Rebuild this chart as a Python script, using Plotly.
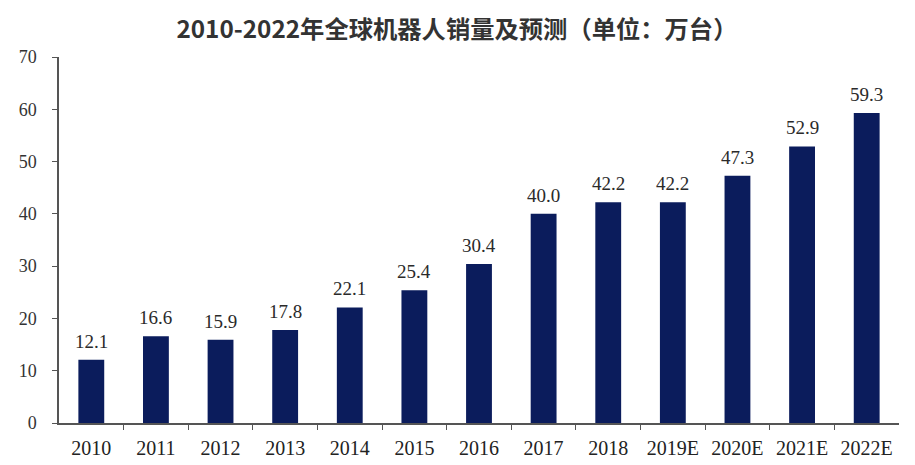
import plotly.graph_objects as go

years = ["2010", "2011", "2012", "2013", "2014", "2015", "2016", "2017",
         "2018", "2019E", "2020E", "2021E", "2022E"]
sales = [12.1, 16.6, 15.9, 17.8, 22.1, 25.4, 30.4, 40.0, 42.2, 42.2, 47.3, 52.9, 59.3]
y_ticks = [0, 10, 20, 30, 40, 50, 60, 70]
title_text = "2010-2022年全球机器人销量及预测（单位：万台）"

serif = "Liberation Serif, Times New Roman, serif"
pos = list(range(len(years)))

fig = go.Figure()
fig.add_trace(go.Bar(
    x=pos, y=sales,
    marker=dict(color="#0b1c5c", line=dict(width=0)),
    width=0.4,
    customdata=years,
    hovertemplate="%{customdata}: %{y}<extra></extra>",
))

for p, v in zip(pos, sales):
    fig.add_annotation(
        x=p, y=v, text=f"{v:.1f}", showarrow=False,
        yanchor="bottom", yshift=6,
        font=dict(family=serif, size=19, color="#2a2a2a"),
    )

# page body has an 8px margin, so the figure is sized 8px smaller
fig.update_layout(
    width=907, height=457,
    margin=dict(l=51, r=16, t=49, b=42),
    paper_bgcolor="white", plot_bgcolor="white",
    showlegend=False,
    title=dict(
        text=title_text, x=0.495, xanchor="center", y=0.952, yanchor="middle",
        font=dict(family="Noto Sans CJK SC", size=24.3, color="#333333", weight="bold"),
    ),
    xaxis=dict(
        range=[-0.5, len(years) - 0.5],
        tickvals=pos, ticktext=years,
        showline=True, linecolor="#555555", linewidth=1.5,
        ticks="",
        minor=dict(ticks="outside", tickvals=[p + 0.5 for p in pos[:-1]],
                   ticklen=5, tickcolor="#555555", showgrid=False),
        tickfont=dict(family=serif, size=20, color="#222222"),
        ticklabelstandoff=6,
        showgrid=False, zeroline=False,
        automargin=False,
    ),
    yaxis=dict(
        range=[0, 70], tickvals=y_ticks,
        showline=True, linecolor="#555555", linewidth=1.5,
        ticks="outside", ticklen=5, tickcolor="#555555",
        tickfont=dict(family=serif, size=18, color="#333333"),
        ticklabelstandoff=12,
        showgrid=False, zeroline=False,
        automargin=False,
    ),
)

fig.write_html("out.html")
